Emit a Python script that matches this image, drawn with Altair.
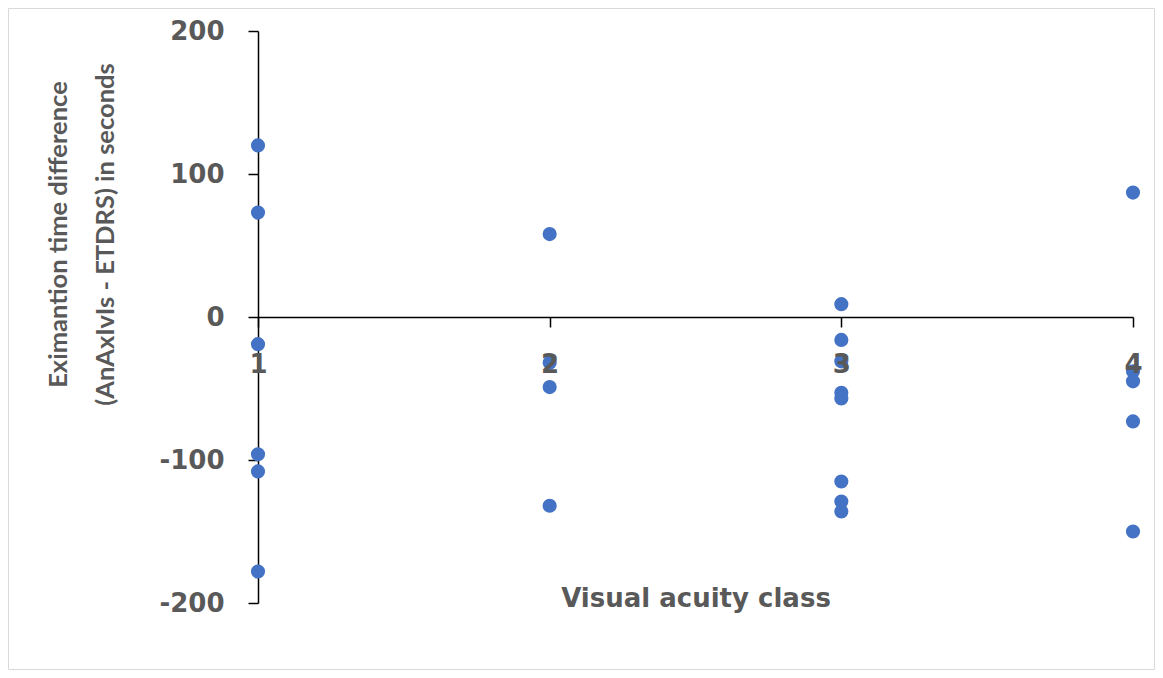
import altair as alt
import pandas as pd

acuity_class = [1]*6 + [2]*4 + [3]*8 + [4]*5
time_diff = [120, 73, -19, -96, -108, -178,
             58, -32, -49, -132,
             9, -16, -31, -53, -57, -115, -129, -136,
             87, -38, -45, -73, -150]

df = pd.DataFrame({"cls": acuity_class, "diff": time_diff})

GRAY = "#595959"
W, H = 875, 572

points = alt.Chart(df).mark_circle(size=200, color="#4472C4", opacity=1).encode(
    x=alt.X("cls:Q", scale=alt.Scale(domain=[1, 4], nice=False, zero=False),
            axis=alt.Axis(values=[1, 2, 3, 4], offset=-H/2, zindex=1, grid=False, labelFlush=False,
                          labelOverlap=False,
                          domainColor="black", domainWidth=1.5, tickColor="black", tickWidth=1.5,
                          tickSize=10, labelPadding=24, labelFont="DejaVu Sans", labelFontWeight="bold",
                          labelFontSize=26, labelColor=GRAY,
                          title="Visual acuity class", titleFont="DejaVu Sans", titleFontWeight="bold",
                          titleFontSize=26, titleColor=GRAY, titleY=281, titleBaseline="middle")),
    y=alt.Y("diff:Q", scale=alt.Scale(domain=[-200, 200], nice=False),
            axis=alt.Axis(values=[-200, -100, 0, 100, 200], grid=False, labelFlush=False,
                          labelExpr="datum.value",
                          domainColor="black", domainWidth=1.5, tickColor="black", tickWidth=1.5,
                          tickSize=10, labelPadding=24, labelFont="DejaVu Sans", labelFontWeight="bold",
                          labelFontSize=26, labelColor=GRAY,
                          title=["Eximantion time difference", "(AnAxIvIs - ETDRS) in seconds"],
                          titleFont="Lato", titleFontWeight="bold", titleFontSize=25.5, titleColor=GRAY,
                          titleLineHeight=47, titleAngle=-90, titleAlign="center", titleBaseline="middle",
                          titleX=-200, titleY=203)),
)

border = alt.Chart(alt.Data(values=[{}])).mark_rect(fillOpacity=0, stroke="#D9D9D9", strokeWidth=1).encode(
    x=alt.value(-249.5), x2=alt.value(896.5), y=alt.value(-22.5), y2=alt.value(638.5)
)

chart = alt.layer(border, points).properties(
    width=W, height=H,
    autosize=alt.AutoSizeParams(type="none"),
    padding={"left": 250, "top": 23, "right": 22, "bottom": 67},
).configure_view(stroke=None)

chart.save("out.html", embed_options={"renderer": "svg", "actions": False})
